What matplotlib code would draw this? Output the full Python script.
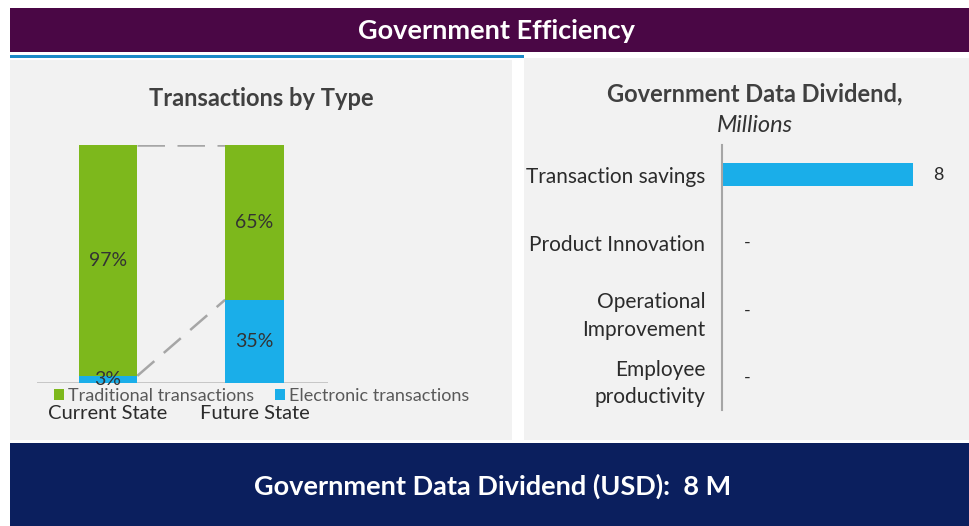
import matplotlib
matplotlib.use("Agg")
import matplotlib.pyplot as plt
from matplotlib.patches import Rectangle

plt.rcParams['font.family'] = ['Lato', 'DejaVu Sans']

# data
states = ["Current State", "Future State"]
electronic = [3, 35]
traditional = [97, 65]

dividend_labels = ["Transaction savings", "Product Innovation",
                   "Operational\nImprovement", "Employee\nproductivity"]
dividend_values = [8, 0, 0, 0]
dividend_total = 8

# colours
PURPLE = '#4a0745'
NAVY = '#0b1f5e'
PANEL = '#f2f2f2'
GREEN = '#7db81c'
BLUE = '#1aaee9'
W, H = 969, 526

fig = plt.figure(figsize=(W / 100, H / 100), dpi=100)
fig.patch.set_facecolor('white')


def box(x0, y0, x1, y1):
    # pixel box (top-left origin) -> figure fraction rect
    return [x0 / W, 1 - y1 / H, (x1 - x0) / W, (y1 - y0) / H]


def rect(x0, y0, x1, y1, color):
    l, b, w, h = box(x0, y0, x1, y1)
    fig.patches.append(Rectangle((l, b), w, h, transform=fig.transFigure,
                                 facecolor=color, edgecolor='none', zorder=-10))


# bands and panels
rect(10, 8, 969, 52, PURPLE)
rect(10, 55, 524, 58, '#1b8ac7')
rect(10, 60, 512, 440, PANEL)
rect(524, 58, 969, 440, PANEL)
rect(10, 443, 969, 526, NAVY)

fig.text(496 / W, 1 - 31 / H, "Government Efficiency", color='white',
         fontsize=19.5, fontweight='bold', ha='center', va='center')
fig.text(493 / W, 1 - 486 / H, "Government Data Dividend (USD):  %d M" % dividend_total,
         color='white', fontsize=19.5, fontweight='bold', ha='center', va='center')

# ─────────────────────────────────
# LEFT — transactions by type
# ─────────────────────────────────
ax1 = fig.add_axes(box(37, 145, 328, 383))
ax1.set_facecolor('none')
x = list(range(len(states)))
bw = 0.40
ax1.bar(x, electronic, width=bw, color=BLUE, label='Electronic transactions', zorder=2)
ax1.bar(x, traditional, width=bw, bottom=electronic, color=GREEN,
        label='Traditional transactions', zorder=2)

for i in x:
    ax1.text(i, electronic[i] / 2, f"{electronic[i]}%", ha='center', va='center',
             fontsize=14, color='#333333', zorder=3)
    ax1.text(i, electronic[i] + traditional[i] / 2, f"{traditional[i]}%",
             ha='center', va='center', fontsize=14, color='#333333', zorder=3)

# connector lines
ax1.plot([bw / 2, 1 - bw / 2], [100, 100], color='#a6a6a6', lw=1.8,
         dashes=(11, 5), zorder=1)
ax1.plot([bw / 2, 1 - bw / 2], [electronic[0], electronic[1]], color='#a6a6a6',
         lw=1.8, dashes=(9, 5), zorder=1)

ax1.axhline(0, color='#bfbfbf', lw=1.2, zorder=1)
ax1.set_xlim(-0.485, 1.502)
ax1.set_ylim(0, 100)
for s in ax1.spines.values():
    s.set_visible(False)
ax1.set_yticks([])
ax1.set_xticks(x)
ax1.set_xticklabels(states, fontsize=14.5, color='#2b2b2b')
ax1.tick_params(axis='x', length=0, pad=16)

h, l = ax1.get_legend_handles_labels()
fig.legend(h[::-1], l[::-1], loc='center left',
           bbox_to_anchor=(54 / W, 1 - 396 / H), ncol=2, frameon=False,
           fontsize=13, labelcolor='#595959', handlelength=0.55, handleheight=0.55,
           handletextpad=0.2, columnspacing=1.2, borderaxespad=0, borderpad=0)

fig.text(261 / W, 1 - 98 / H, "Transactions by Type", fontsize=17,
         fontweight='bold', color='#404040', ha='center', va='center')

# ─────────────────────────────────
# RIGHT — data dividend
# ─────────────────────────────────
ax2 = fig.add_axes(box(722, 145, 961, 410))
ax2.set_facecolor('none')
y = list(range(len(dividend_labels)))
ax2.barh(y, dividend_values, height=0.34, color=BLUE, zorder=2)
for i, v in zip(y, dividend_values):
    ax2.annotate(f"{v:g}" if v else "-", (v, i), xytext=(18, 0),
                 textcoords='offset points', ha='center', va='center',
                 fontsize=13, color='#2b2b2b')
ax2.set_xlim(0, 10)
ax2.set_ylim(3.47, -0.44)
for k, s in ax2.spines.items():
    s.set_visible(k == 'left')
ax2.spines['left'].set_color('#a6a6a6')
ax2.spines['left'].set_linewidth(1.5)
ax2.set_xticks([])
ax2.set_yticks(y)
ax2.set_yticklabels(dividend_labels, fontsize=15, color='#2b2b2b',
                    multialignment='right', linespacing=1.45)
ax2.tick_params(axis='y', length=0, pad=12)

fig.text(755 / W, 1 - 94 / H, "Government Data Dividend,", fontsize=17,
         fontweight='bold', color='#404040', ha='center', va='center')
fig.text(755 / W, 1 - 125 / H, "Millions", fontsize=17, style='italic',
         color='#333333', ha='center', va='center')

fig.savefig('out.png', dpi=100, facecolor='white')
